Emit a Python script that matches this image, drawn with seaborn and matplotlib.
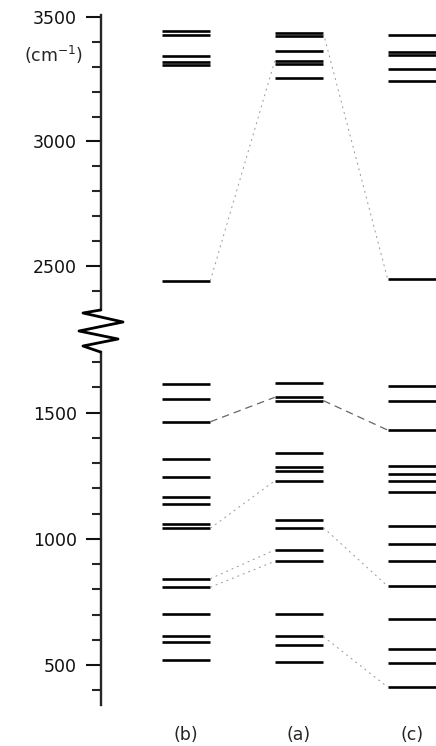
import numpy as np
import pandas as pd
import matplotlib
matplotlib.use('Agg')
import matplotlib.pyplot as plt
import seaborn as sns
from matplotlib.lines import Line2D
from matplotlib.ticker import MultipleLocator

# 진동 준위 데이터 (cm-1)
columns = ['(b)', '(a)', '(c)']
levels_b = [3444, 3428, 3343, 3321, 3307, 2440, 1613, 1554, 1464, 1315, 1246, 1167, 1137,
            1058, 1042, 842, 808, 701, 616, 590, 519]
levels_a = [3436, 3424, 3363, 3323, 3311, 3256, 1619, 1561, 1548, 1340, 1286, 1269, 1230,
            1075, 1045, 956, 911, 701, 613, 581, 512]
levels_c = [3428, 3359, 3347, 3290, 3244, 2446, 1606, 1548, 1431, 1289, 1257, 1230, 1186,
            1050, 979, 914, 812, 683, 565, 508, 412]

# 준위 간 상관선 (from column, from level, to column, to level)
link_from_col = ['(b)', '(a)', '(b)', '(a)', '(b)', '(b)', '(b)', '(a)', '(a)']
link_from_val = [2440, 3436, 1464, 1548, 1042, 842, 808, 1045, 613]
link_to_col = ['(a)', '(c)', '(a)', '(c)', '(a)', '(a)', '(a)', '(c)', '(c)']
link_to_val = [3323, 2446, 1561, 1431, 1230, 956, 911, 812, 412]
link_style = ['dot', 'dot', 'dash', 'dash', 'dot', 'dot', 'dot', 'dot', 'dot']

levels = pd.DataFrame({
    'col': np.repeat(columns, [len(levels_b), len(levels_a), len(levels_c)]),
    'freq': levels_b + levels_a + levels_c,
})
xpos = {c: i for i, c in enumerate(columns)}
levels['x'] = levels['col'].map(xpos)
half = 0.215

sns.set_style('ticks')
plt.rcParams['font.family'] = ['DejaVu Sans']
plt.rcParams['mathtext.default'] = 'regular'

W, H = 436, 746
fig = plt.figure(figsize=(W / 100, H / 100), dpi=100)
ax_top = fig.add_axes([101 / W, 1 - 310 / H, 1 - 101 / W, 295 / H])
ax_bot = fig.add_axes([101 / W, 1 - 705 / H, 1 - 101 / W, 353 / H])
ax_top.set_ylim(2323, 3508)
ax_bot.set_ylim(341.5, 1740.6)

for ax in (ax_top, ax_bot):
    lo, hi = ax.get_ylim()
    sub = levels[(levels['freq'] > lo) & (levels['freq'] < hi)]
    ax.hlines(sub['freq'], sub['x'] - half, sub['x'] + half, color='black', lw=1.9)
    ax.set_xlim(-0.752, 2.212)
    ax.yaxis.set_major_locator(MultipleLocator(500))
    ax.yaxis.set_minor_locator(MultipleLocator(100))
    ax.tick_params(axis='y', which='major', direction='out', length=10.5, width=1.5,
                   pad=7, labelsize=12.5, colors='#111111')
    ax.tick_params(axis='y', which='minor', direction='out', length=6.5, width=1.5)
    sns.despine(ax=ax, top=True, right=True, bottom=True)
    ax.spines['left'].set_linewidth(1.7)
    ax.set_ylabel('')

# 상관선 그리기
links = pd.DataFrame({
    'x0': [xpos[c] + half for c in link_from_col],
    'y0': link_from_val,
    'x1': [xpos[c] - half for c in link_to_col],
    'y1': link_to_val,
    'style': link_style,
})
for i, row in links.iterrows():
    ax = ax_top if row['y0'] > 2000 else ax_bot
    seg = pd.DataFrame({'x': [row['x0'], row['x1']], 'y': [row['y0'], row['y1']]})
    if row['style'] == 'dash':
        sns.lineplot(data=seg, x='x', y='y', ax=ax, color='#666666', lw=0.9,
                     linestyle=(0, (6, 4)), sort=False)
    else:
        sns.lineplot(data=seg, x='x', y='y', ax=ax, color='#999999', lw=0.7,
                     linestyle=(0, (2, 4)), sort=False)
    ax.set_xlabel('')
    ax.set_ylabel('')

ax_top.set_xticks([])
ax_bot.set_xticks(range(len(columns)))
ax_bot.set_xticklabels(columns)
ax_bot.tick_params(axis='x', length=0, pad=15, labelsize=12.5)

fig.text(83 / W, 1 - 55 / H, '(cm$^{-1}$)', ha='right', va='center', fontsize=12.5)

# 축 끊김 표시 (지그재그)
zx = [100.5, 83, 123, 79, 118, 83, 100.5]
zy = [310, 313, 322, 331, 339, 346, 352]
fig.add_artist(Line2D([x / W for x in zx], [1 - y / H for y in zy],
                      transform=fig.transFigure, color='black', lw=2.0))

fig.savefig('out.png', dpi=100, facecolor='white')
